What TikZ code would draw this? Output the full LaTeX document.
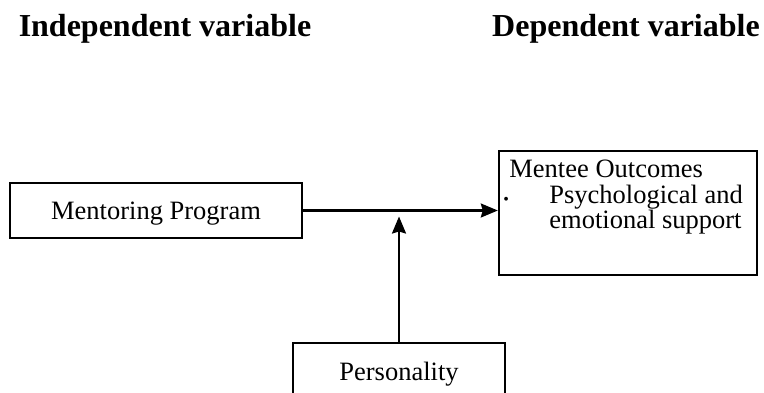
\documentclass[tikz,border=0pt]{standalone}
\usepackage{fontspec}
\setmainfont{Liberation Serif}
\usetikzlibrary{arrows.meta, positioning, calc}

\begin{document}
\begin{tikzpicture}[x=0.5pt,y=-0.5pt,
  box/.style={draw, line width=1.2pt, inner sep=0pt, text depth=0pt,
    font=\fontsize{13.25}{13}\selectfont},
  head/.style={font=\fontsize{16}{19}\selectfont\bfseries, inner sep=0pt},
  body/.style={font=\fontsize{13.25}{13}\selectfont, inner sep=0pt},
  arr/.style={-{Stealth[length=8.5pt,width=7pt,inset=1pt]}, line width=1.1pt}]
\useasboundingbox (0,0) rectangle (764,392);
\clip (0,0) rectangle (764,392);
% Headings
\node[head, anchor=base] (indep) at (165,36) {Independent variable};
\node[head, anchor=base] (dep) at (626,36) {Dependent variable};
% Boxes
\node[box, minimum width=146pt, minimum height=27.5pt] (program) at (156,210.5) {Mentoring Program};
\node[box, minimum width=129pt, minimum height=62pt] (outcome) at (628,213) {};
\node[box, minimum width=106pt, minimum height=28.2pt] (personality) at (399,371.2) {Personality};
% Text of the outcome box
\node[body, anchor=base west] (title) at (509,177) {Mentee Outcomes};
\node[body, anchor=base west, font=\fontsize{8}{8}\selectfont] (dot) at (503,204) {\textbullet};
\node[body, anchor=base west] (item1) at (549,203) {Psychological and};
\node[body, anchor=base west] (item2) at (549,228) {emotional support};
% Arrows
\draw[arr] (program.east) -- (program.east -| outcome.west);
\draw[arr] (personality.north) -- ($(personality.north |- program.east)+(0,6)$);
\end{tikzpicture}
\end{document}
